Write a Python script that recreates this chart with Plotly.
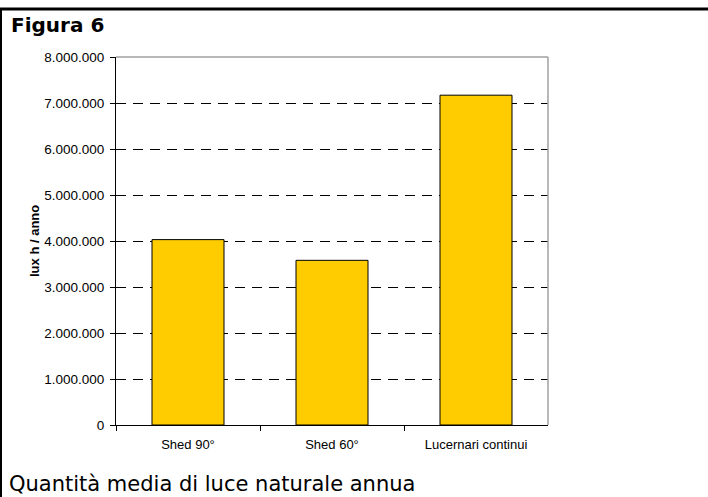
import plotly.graph_objects as go

# Annual natural light by roof type
categories = ["Shed 90°", "Shed 60°", "Lucernari continui"]
values = [4030000, 3580000, 7170000]
y_ticks = [0, 1000000, 2000000, 3000000, 4000000, 5000000, 6000000, 7000000, 8000000]

W, H = 708, 497
# plot area in pixels
x0, x1 = 116, 548
y_top, y_bot = 57, 425

fig = go.Figure()
fig.add_trace(go.Bar(
    x=categories,
    y=values,
    width=0.5,
    marker=dict(color="#FFCC00", line=dict(color="#000000", width=1)),
    hoverinfo="x+y",
))

fig.update_layout(
    width=W,
    height=H,
    autosize=False,
    margin=dict(l=0, r=0, t=0, b=0, pad=0),
    paper_bgcolor="white",
    plot_bgcolor="white",
    showlegend=False,
    separators=",.",
    font=dict(family="Liberation Sans, Arial, sans-serif", size=13, color="#000000"),
    bargap=0.5,
)

fig.update_xaxes(
    domain=[x0 / W, x1 / W],
    automargin=False,
    showline=True,
    linecolor="#000000",
    linewidth=1,
    ticks="outside",
    tickson="boundaries",
    ticklen=5,
    tickcolor="#000000",
    showgrid=False,
    tickfont=dict(size=13),
    ticklabelstandoff=7,
)

fig.update_yaxes(
    domain=[(H - y_bot) / H, (H - y_top) / H],
    automargin=False,
    range=[0, 8000000],
    tickvals=y_ticks,
    tickformat=",d",
    showline=True,
    linecolor="#000000",
    linewidth=1,
    ticks="outside",
    ticklen=5,
    tickcolor="#000000",
    showgrid=True,
    gridcolor="#000000",
    gridwidth=1,
    griddash="10px,7px",
    zeroline=False,
    tickfont=dict(size=13.5),
    ticklabelstandoff=3,
)

shapes = [
    # gray frame on top and right of the plot area
    dict(type="line", xref="x domain", yref="y domain", x0=0, x1=1, y0=1, y1=1,
         line=dict(color="#A0A0A0", width=1.5)),
    dict(type="line", xref="x domain", yref="y domain", x0=1, x1=1, y0=0, y1=1,
         line=dict(color="#A0A0A0", width=1.5)),
    # black page rules: top and left
    dict(type="line", xref="paper", yref="paper", x0=0, x1=1, y0=1 - 9 / H, y1=1 - 9 / H,
         line=dict(color="#000000", width=3)),
    dict(type="line", xref="paper", yref="paper", x0=1 / W, x1=1 / W, y0=0, y1=1 - 9 / H,
         line=dict(color="#000000", width=2)),
]
fig.update_layout(shapes=shapes)

annotations = [
    dict(text="<b>Figura 6</b>", xref="paper", yref="paper", x=9 / W, y=1 - 11 / H,
         xanchor="left", yanchor="top", showarrow=False,
         font=dict(family="DejaVu Sans, Verdana, sans-serif", size=20, color="#000000")),
    dict(text="<b>lux h / anno</b>", xref="paper", yref="paper", x=35 / W,
         y=(H - (y_top + y_bot) / 2) / H, textangle=-90, xanchor="center", yanchor="middle",
         showarrow=False,
         font=dict(family="Liberation Sans, Arial, sans-serif", size=13, color="#000000")),
    dict(text="Quantità media di luce naturale annua", xref="paper", yref="paper",
         x=8 / W, y=0.5 / H, xanchor="left", yanchor="bottom", showarrow=False,
         borderpad=0,
         font=dict(family="DejaVu Sans, Verdana, sans-serif", size=21, color="#000000")),
]
fig.update_layout(annotations=annotations)

fig.write_html("out.html")
